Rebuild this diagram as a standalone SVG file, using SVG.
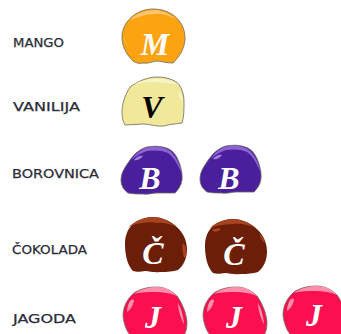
<svg xmlns="http://www.w3.org/2000/svg" width="341" height="334" viewBox="0 0 341 334">
<style>
.lb{font-family:"DejaVu Sans","Liberation Sans",sans-serif;font-size:12px;fill:#2b2b38;stroke:#2b2b38;stroke-width:.25}
.ch{font-family:"Liberation Serif",serif;font-weight:bold;font-style:italic;font-size:32px;text-anchor:middle;fill:#fff}
.o{stroke:#6a6a60;stroke-width:.8}
</style>
<defs>
<path id="blobB" class="o" d="M147 147C158 145 168 147 173 152C179 158 183 172 182 180C181 186 178 190 175 193C168 193 163 193 157 193C152 193 148 195 143 194C138 194 133 194 128 193C124 190 121 186 121 180C121 172 126 166 130 160C135 153 140 149 147 147Z"/>
<path id="blobC" d="M152 217C165 216 187 228 187 249C187 258 184 265 178 270C170 272 165 272 160 272C154 273 150 271 145 271C141 272 136 272 133 271C128 266 125 256 125 244C125 228 135 218 152 217Z"/>
<path id="blobJ" class="o" d="M156 287C165 287 172 291 177 296C182 303 186 312 187 322C187 330 185 336 180 340L135 340C128 335 124 326 123 316C123 307 127 299 134 293C140 289 148 287 156 287Z"/>
</defs>
<g id="mango">
<text class="lb" x="13" y="47" textLength="51" lengthAdjust="spacingAndGlyphs">MANGO</text>
<path class="o" fill="#fca311" d="M153 9C172 9 186 22 185 40C184 49 180 56 173 63C168 63 163 62 158 61C153 61 149 64 143 63C139 64 136 63 133 61C127 55 122 47 122 37C122 22 136 9 153 9Z"/>
<path fill="#fdc56e" d="M130 20C136 13 147 10 156 10C163 11 171 14 176 19C170 16 162 13 155 14C147 14 138 17 130 20ZM124 36C125 41 127 45 129 48C126 45 124 41 124 36Z"/>
<text class="ch" x="155" y="55">M</text>
</g>
<g id="vanilija">
<text class="lb" x="13" y="111" textLength="67" lengthAdjust="spacingAndGlyphs">VANILIJA</text>
<path class="o" fill="#f2e899" d="M157 77C170 77 178 82 180 86C183 92 184 96 184 102C184 110 184 117 182 123C176 124 170 124 164 126C157 127 150 124 143 124C137 124 131 125 125 125C122 120 122 115 122 110C123 100 126 94 130 87C138 81 148 77 157 77Z"/>
<path fill="#f9f4c8" d="M134 84C143 80 154 78 163 79C170 80 175 82 178 85C170 83 162 82 153 82C146 82 140 83 134 84ZM178 90C181 94 183 98 183 102C180 99 178 95 178 90Z"/>
<text class="ch" x="152" y="118" style="fill:#000">V</text>
</g>
<g id="borovnica">
<text class="lb" x="12" y="178" textLength="87" lengthAdjust="spacingAndGlyphs">BOROVNICA</text>
<g id="borovnica-1">
<use href="#blobB" fill="#4a1f9c"/>
<path fill="#8d63d2" d="M131 160C137 152 143 148 150 147C158 146 165 147 170 151C176 156 180 165 182 174C178 165 174 157 168 153C162 150 154 150 147 151C141 153 136 156 131 160Z"/>
<path fill="#9d80da" d="M134 160C136 157 140 155 143 156C141 159 137 161 134 160Z"/>
<text class="ch" x="150" y="189">B</text>
</g>
<g id="borovnica-2">
<use href="#blobB" x="79" y="-1" fill="#4a1f9c"/>
<path transform="translate(79,-1)" fill="#8d63d2" d="M131 160C137 152 143 148 150 147C158 146 165 147 170 151C176 156 180 165 182 174C178 165 174 157 168 153C162 150 154 150 147 151C141 153 136 156 131 160Z"/>
<path transform="translate(79,-1)" fill="#9d80da" d="M134 160C136 157 140 155 143 156C141 159 137 161 134 160Z"/>
<text class="ch" x="229" y="189">B</text>
</g>
</g>
<g id="cokolada">
<text class="lb" x="12" y="254" textLength="75" lengthAdjust="spacingAndGlyphs">ČOKOLADA</text>
<g id="cokolada-1">
<use href="#blobC" fill="#6b1f08"/>
<path fill="#a7431f" d="M128 228C134 221 143 218 152 217C160 217 168 220 175 226C168 224 163 222 157 223C150 221 142 223 136 224C133 225 130 226 128 228Z"/>
<path fill="#a7431f" d="M183 243C186 246 187 251 186 256C185 260 183 256 183 252C182 248 182 245 183 243Z"/>
<text class="ch" x="153" y="264">Č</text>
</g>
<g id="cokolada-2">
<use href="#blobC" x="80" y="2" fill="#6b1f08"/>
<path transform="translate(80,2)" fill="#a7431f" d="M130 226C136 220 144 218 152 217C160 217 168 220 174 225C167 223 161 221 154 222C146 222 138 223 130 226Z"/>
<path fill="#a7431f" d="M212 230C215 228 219 228 221 229C219 232 214 233 212 230ZM260 234C263 237 265 241 265 243C262 241 260 238 260 234Z"/>
<text class="ch" x="234" y="265">Č</text>
</g>
</g>
<g id="jagoda">
<text class="lb" x="13" y="323" textLength="63" lengthAdjust="spacingAndGlyphs">JAGODA</text>
<g id="jagoda-1">
<use href="#blobJ" fill="#fb104f"/>
<path fill="#fd8fab" d="M134 294C141 289 149 287 156 287C165 287 172 290 177 296C170 293 163 292 156 292C148 292 141 292 134 294ZM130 301C132 299 134 299 134 301C133 306 130 310 127 312C127 308 128 304 130 301ZM178 303C181 308 184 318 184 324C181 319 178 310 178 303Z"/>
<text class="ch" x="153" y="328">J</text>
</g>
<g id="jagoda-2">
<use href="#blobJ" x="80" fill="#fb104f"/>
<path transform="translate(80,0)" fill="#fd8fab" d="M134 294C141 289 149 287 156 287C165 287 172 290 177 296C170 293 163 292 156 292C148 292 141 292 134 294ZM130 301C132 299 134 299 134 301C133 306 130 310 127 312C127 308 128 304 130 301ZM178 303C181 308 184 318 184 324C181 319 178 310 178 303Z"/>
<text class="ch" x="234" y="328">J</text>
</g>
<g id="jagoda-3">
<use href="#blobJ" x="160" y="-1" fill="#fb104f"/>
<path transform="translate(160,-1)" fill="#fd8fab" d="M134 294C141 289 149 287 156 287C165 287 172 290 177 296C170 293 163 292 156 292C148 292 141 292 134 294ZM130 301C132 299 134 299 134 301C133 306 130 310 127 312C127 308 128 304 130 301Z"/>
<text class="ch" x="314" y="326">J</text>
</g>
</g>
</svg>
